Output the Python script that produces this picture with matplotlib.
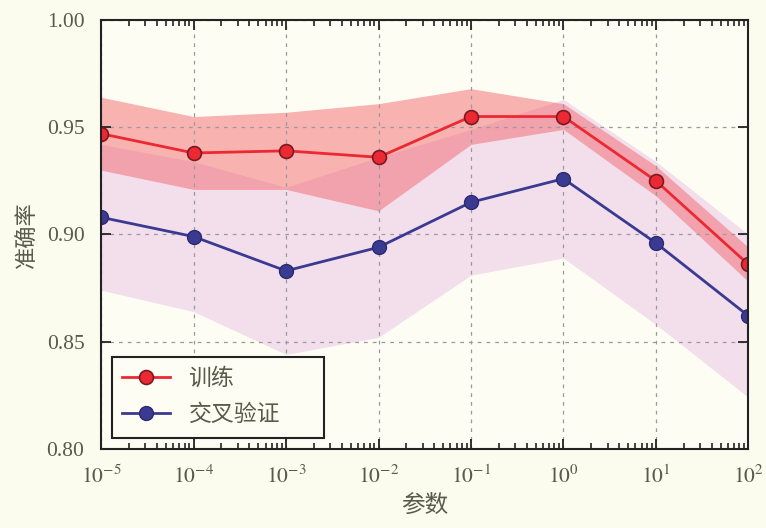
import numpy as np
import matplotlib
matplotlib.use("Agg")
import matplotlib.pyplot as plt
from matplotlib.ticker import NullFormatter, FixedLocator
from matplotlib.patches import Rectangle

param_range = [1e-5, 1e-4, 1e-3, 1e-2, 1e-1, 1e0, 1e1, 1e2]
train_mean = [0.947, 0.938, 0.939, 0.936, 0.955, 0.955, 0.925, 0.886]
train_std = [0.017, 0.017, 0.018, 0.025, 0.013, 0.006, 0.007, 0.008]
test_mean = [0.908, 0.899, 0.883, 0.894, 0.915, 0.926, 0.896, 0.862]
test_std = [0.034, 0.035, 0.039, 0.042, 0.034, 0.037, 0.038, 0.038]

xlabel = "参数"
ylabel = "准确率"
labels = ["训练", "交叉验证"]

plt.rcParams['font.family'] = ['Noto Sans CJK SC', 'DejaVu Sans']
plt.rcParams['mathtext.fontset'] = 'stix'

bg = '#fbfbee'
txt = '#5a5a4a'
fig = plt.figure(figsize=(7.66, 5.28), dpi=100, facecolor=bg)
ax = fig.add_axes([0.132, 0.150, 0.845, 0.812])
ax.set_facecolor('#fdfdf4')

x = np.array(param_range)
tm = np.array(train_mean); ts = np.array(train_std)
vm = np.array(test_mean); vs = np.array(test_std)

ax.fill_between(x, vm - vs, vm + vs, color='#d070d0', alpha=0.22, linewidth=0)
ax.fill_between(x, tm - ts, tm + ts, color='#f25a60', alpha=0.45, linewidth=0)

ax.plot(x, tm, color='#ec2832', linewidth=2, marker='o', markersize=10,
        markerfacecolor='#ec2832', markeredgecolor='#7a1a22', markeredgewidth=1.2,
        label=labels[0])
ax.plot(x, vm, color='#3b3a92', linewidth=2, marker='o', markersize=10,
        markerfacecolor='#3b3a92', markeredgecolor='#2a2a70', markeredgewidth=1.0,
        label=labels[1])

ax.set_xscale('log')
ax.set_xlim(1e-5, 1e2)
ax.set_ylim(0.80, 1.00)
ax.set_yticks([0.80, 0.85, 0.90, 0.95, 1.00])
ax.set_yticklabels(['0.80', '0.85', '0.90', '0.95', '1.00'])
ax.set_xticks(param_range)
ax.set_xticklabels([r'$10^{%d}$' % int(np.log10(v)) for v in param_range])
minor_pos = [d * m for d in param_range[:-1] for m in range(2, 10)]
ax.xaxis.set_minor_locator(FixedLocator(minor_pos))
ax.xaxis.set_minor_formatter(NullFormatter())

ax.grid(True, which='major', linestyle=(0, (3, 4)), color='#9a9a9a', linewidth=0.9)
ax.tick_params(which='both', direction='in', top=True, right=True, color='#222222')
ax.tick_params(which='major', length=7, width=1.3, labelcolor=txt)
ax.tick_params(axis='y', which='major', labelsize=15.5, pad=12)
ax.tick_params(axis='x', which='major', labelsize=15.5, pad=12)
ax.tick_params(axis='x', which='minor', length=4, width=1.2, bottom=True, top=True)
for lab in ax.get_yticklabels():
    lab.set_family('Liberation Serif')
for sp in ax.spines.values():
    sp.set_color('#222222')
    sp.set_linewidth(1.5)

ax.set_xlabel(xlabel, fontsize=17, color=txt, labelpad=4)
ax.set_ylabel(ylabel, fontsize=16, color=txt, labelpad=6)

# legend frame
ax.add_patch(Rectangle((0.017, 0.0256), 0.328, 0.189, transform=ax.transAxes,
                       facecolor='#fdfdf4', edgecolor='#222222', linewidth=1.5,
                       zorder=4))
leg = ax.legend(loc='center left', bbox_to_anchor=(0.0325, 0.122),
                fontsize=16.5, frameon=False, borderpad=0, borderaxespad=0,
                handlelength=2.1, handletextpad=0.8, labelspacing=0.55)
leg.set_zorder(5)
for t in leg.get_texts():
    t.set_color(txt)

fig.savefig('out.png', dpi=100, facecolor=bg)
